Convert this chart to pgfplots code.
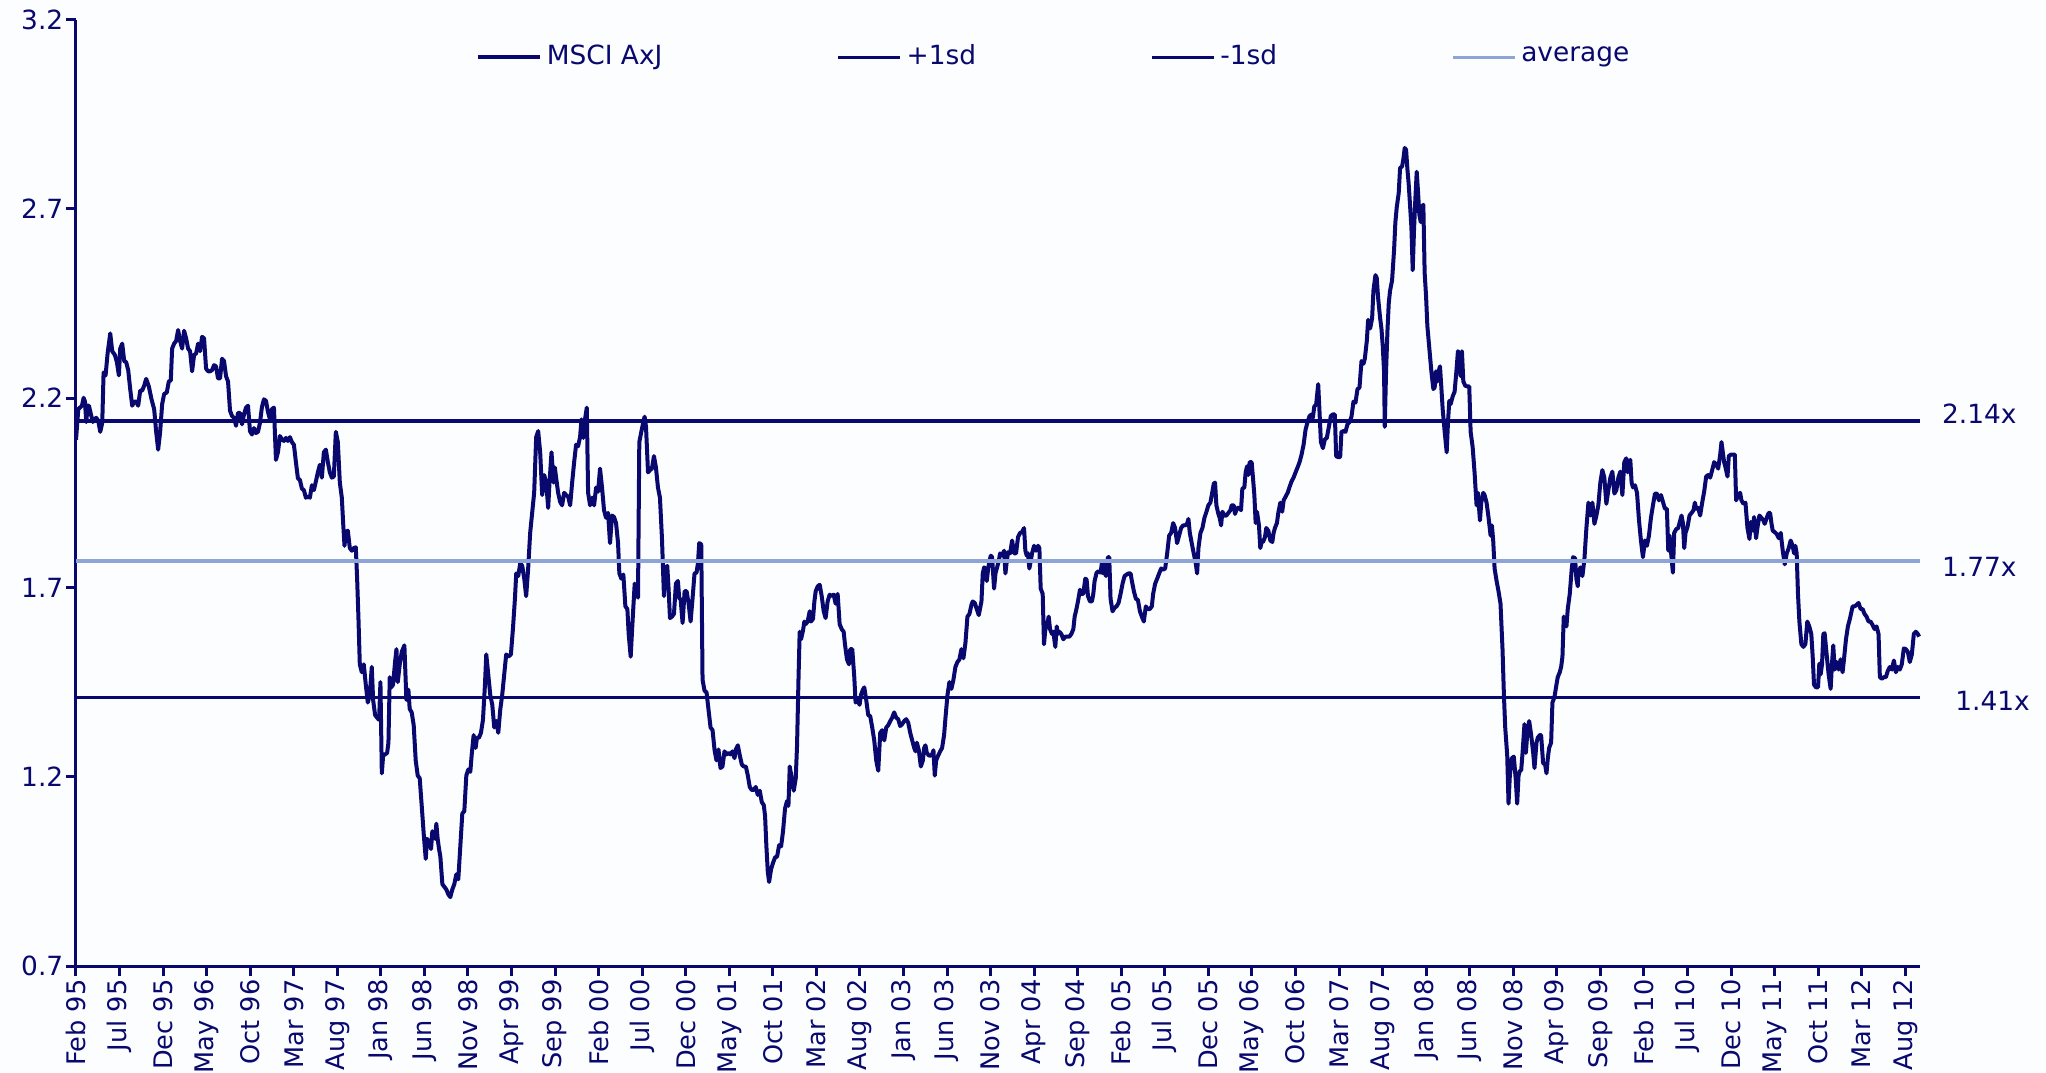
\documentclass[border=0pt]{standalone}
\usepackage{pgfplots}
\pgfplotsset{compat=1.18}
\usepackage{fontspec}
\setmainfont{DejaVu Sans}
\definecolor{navy}{RGB}{8,8,110}
\definecolor{avgblue}{RGB}{143,164,214}
\definecolor{bgc}{RGB}{252,253,255}
\newcommand{\lblfont}{\fontsize{6.6}{7.9}\selectfont}
\newcommand{\xlblfont}{\fontsize{6.4}{7.6}\selectfont}
\begin{document}
\begin{tikzpicture}
\fill[bgc] (-19pt,-26.5pt) rectangle (492.5pt,241.5pt);
\begin{axis}[
  at={(0,0)}, anchor=south west,
  scale only axis, width=461pt, height=236.6pt,
  xmin=0, xmax=211.7, ymin=0.7, ymax=3.2,
  axis lines*=left, axis line style={navy, line width=0.75pt, -},
  tick style={navy, line width=0.75pt},
  tick align=outside, major tick length=2.5pt,
  ytick={0.7,1.2,1.7,2.2,2.7,3.2},
  yticklabels={0.7,1.2,1.7,2.2,2.7,3.2},
  xtick={0,5,...,210},
  xticklabels={Feb 95,Jul 95,Dec 95,May 96,Oct 96,Mar 97,Aug 97,Jan 98,Jun 98,Nov 98,Apr 99,Sep 99,Feb 00,Jul 00,Dec 00,May 01,Oct 01,Mar 02,Aug 02,Jan 03,Jun 03,Nov 03,Apr 04,Sep 04,Feb 05,Jul 05,Dec 05,May 06,Oct 06,Mar 07,Aug 07,Jan 08,Jun 08,Nov 08,Apr 09,Sep 09,Feb 10,Jul 10,Dec 10,May 11,Oct 11,Mar 12,Aug 12},
  xticklabel style={rotate=90, anchor=east, font=\xlblfont, text=navy, inner sep=0.7pt},
  yticklabel style={font=\lblfont, text=navy, inner sep=0.5pt},
  clip=false,
  legend columns=4,
  legend style={draw=none, fill=none, at={(axis description cs:0.2165,0.960)}, anchor=west, font=\lblfont, text=navy, inner sep=0pt, nodes={inner sep=1.2pt}, /tikz/every even column/.append style={column sep=42.3pt}},
  legend image code/.code={\draw[#1] (0pt,0pt) -- (15.5pt,0pt);},
]
\addplot[navy, line width=1.0pt, line join=round] coordinates {
(0,2.09) (0.264,2.171) (0.684,2.180) (0.875,2.201) (1.028,2.191) (1.181,2.137) (1.334,2.180) (1.486,2.180) (1.716,2.157) (1.945,2.137) (2.098,2.144) (2.327,2.148) (2.556,2.140) (2.785,2.111) (3.014,2.135) (3.167,2.268) (3.396,2.260) (3.626,2.318) (3.931,2.371) (4.160,2.324) (4.466,2.314) (4.695,2.295) (4.925,2.260) (5.077,2.331) (5.306,2.344) (5.536,2.298) (5.765,2.295) (5.994,2.274) (6.223,2.224) (6.452,2.180) (6.681,2.191) (6.911,2.191) (7.140,2.180) (7.369,2.220) (7.598,2.220) (7.827,2.233) (8.057,2.251) (8.362,2.231) (8.668,2.197) (8.973,2.171) (9.203,2.111) (9.432,2.064) (9.661,2.111) (9.890,2.184) (10.119,2.211) (10.425,2.215) (10.654,2.244) (10.883,2.247) (11.036,2.331) (11.265,2.344) (11.495,2.351) (11.724,2.380) (11.953,2.351) (12.182,2.331) (12.411,2.378) (12.641,2.358) (12.870,2.331) (13.099,2.324) (13.328,2.271) (13.557,2.314) (13.787,2.318) (14.016,2.344) (14.245,2.324) (14.474,2.362) (14.703,2.358) (14.933,2.278) (15.162,2.271) (15.391,2.271) (15.620,2.274) (15.849,2.287) (16.079,2.284) (16.308,2.252) (16.537,2.252) (16.766,2.304) (16.995,2.298) (17.225,2.258) (17.454,2.244) (17.683,2.167) (17.912,2.153) (18.141,2.148) (18.371,2.127) (18.600,2.161) (18.829,2.161) (19.058,2.131) (19.287,2.157) (19.517,2.175) (19.746,2.180) (19.975,2.113) (20.204,2.104) (20.433,2.121) (20.663,2.108) (20.892,2.111) (21.121,2.135) (21.350,2.177) (21.579,2.197) (21.809,2.193) (22.038,2.164) (22.267,2.144) (22.496,2.171) (22.725,2.175) (22.955,2.037) (23.184,2.057) (23.413,2.100) (23.642,2.091) (23.871,2.087) (24.101,2.095) (24.330,2.087) (24.559,2.097) (24.788,2.084) (25.017,2.077) (25.247,2.031) (25.476,1.988) (25.705,1.984) (25.934,1.961) (26.163,1.957) (26.393,1.937) (26.622,1.940) (26.851,1.937) (27.080,1.970) (27.309,1.957) (27.539,1.980) (27.768,2.004) (27.997,2.024) (28.226,1.990) (28.455,2.057) (28.685,2.064) (28.914,2.031) (29.143,2.004) (29.372,1.990) (29.601,1.993) (29.831,2.111) (30.060,2.084) (30.289,1.977) (30.518,1.937) (30.671,1.870) (30.824,1.810) (30.977,1.846) (31.206,1.850) (31.435,1.804) (31.665,1.797) (31.894,1.804) (32.123,1.806) (32.276,1.723) (32.429,1.617) (32.581,1.497) (32.811,1.476) (33.040,1.497) (33.269,1.443) (33.498,1.396) (33.727,1.416) (33.957,1.490) (34.109,1.403) (34.339,1.363) (34.568,1.356) (34.797,1.350)
(34.95,1.450) (35.11,1.209) (35.26,1.256) (35.49,1.259) (35.72,1.263) (35.87,1.290) (36.02,1.463) (36.18,1.436) (36.40,1.443) (36.63,1.503) (36.79,1.537) (36.94,1.450) (37.17,1.497) (37.40,1.530) (37.70,1.547) (37.93,1.403) (38.16,1.430) (38.31,1.379) (38.54,1.370) (38.77,1.336) (39.00,1.243) (39.23,1.203) (39.46,1.196) (39.69,1.123) (39.92,1.049) (40.15,0.983) (40.30,1.036) (40.53,1.029) (40.76,1.009) (40.91,1.056) (41.06,1.043) (41.22,1.036) (41.37,1.076) (41.52,1.036) (41.68,1.009) (41.83,0.989) (42.06,0.916) (42.29,0.909) (42.52,0.902) (42.75,0.889) (42.97,0.882) (43.20,0.902) (43.43,0.916) (43.66,0.942) (43.89,0.929) (44.12,1.016) (44.35,1.103) (44.58,1.109) (44.81,1.203) (45.04,1.219) (45.27,1.213) (45.42,1.256) (45.65,1.310) (45.88,1.276) (46.03,1.303) (46.26,1.303) (46.49,1.316) (46.72,1.350) (46.95,1.443) (47.10,1.523) (47.33,1.470) (47.56,1.416) (47.79,1.390) (48.02,1.330) (48.25,1.347) (48.48,1.316) (48.70,1.376) (48.93,1.416) (49.16,1.470) (49.39,1.523) (49.62,1.517) (49.93,1.523) (50.16,1.590) (50.39,1.670) (50.54,1.737) (50.77,1.730) (51.00,1.764) (51.23,1.757) (51.46,1.723) (51.68,1.677) (51.91,1.750) (52.14,1.844) (52.37,1.897) (52.60,1.950) (52.83,2.097) (53.06,2.113) (53.29,2.057) (53.52,1.944) (53.75,1.997) (53.98,1.977) (54.21,1.910) (54.36,1.977) (54.59,2.057) (54.82,1.977) (54.97,2.017) (55.12,1.990) (55.35,1.950) (55.58,1.926) (55.81,1.917) (56.04,1.950) (56.27,1.944) (56.50,1.940) (56.73,1.917) (56.96,1.977) (57.19,2.031) (57.41,2.077) (57.64,2.073) (57.87,2.097) (58.03,2.144) (58.25,2.095) (58.41,2.140) (58.64,2.175) (58.79,1.950) (59.02,1.917) (59.25,1.937) (59.48,1.917) (59.71,1.964) (59.94,1.953) (60.16,2.014) (60.39,1.964) (60.62,1.904) (60.85,1.884) (61.08,1.897) (61.31,1.817) (61.54,1.890) (61.77,1.886) (62.00,1.870) (62.23,1.817) (62.38,1.737) (62.61,1.723) (62.84,1.734) (63.07,1.650) (63.30,1.643) (63.45,1.577) (63.68,1.517) (63.91,1.617) (64.14,1.710) (64.29,1.694) (64.52,1.673) (64.67,2.084) (64.90,2.111) (65.13,2.137) (65.28,2.151) (65.44,2.124) (65.67,2.004) (65.90,2.010) (66.12,2.014) (66.35,2.047) (66.58,2.017) (66.81,1.964) (67.04,1.937) (67.27,1.830) (67.50,1.677) (67.65,1.750) (67.88,1.757) (68.03,1.697) (68.19,1.619) (68.42,1.623) (68.65,1.630) (68.87,1.710) (69.10,1.717) (69.26,1.670)
(69.41,1.670) (69.64,1.606) (69.87,1.690) (70.10,1.690) (70.33,1.657) (70.56,1.610) (70.78,1.670) (71.01,1.737) (71.24,1.739) (71.40,1.764) (71.55,1.817) (71.78,1.814) (71.93,1.456) (72.16,1.427) (72.39,1.423) (72.62,1.376) (72.85,1.330) (73.08,1.323) (73.31,1.270) (73.53,1.243) (73.76,1.272) (73.99,1.223) (74.22,1.227) (74.45,1.267) (74.68,1.259) (74.91,1.263) (75.14,1.259) (75.37,1.267) (75.60,1.249) (75.75,1.272) (75.98,1.283) (76.21,1.256) (76.44,1.232) (76.67,1.227) (76.90,1.227) (77.13,1.203) (77.35,1.173) (77.58,1.165) (77.81,1.165) (78.04,1.173) (78.27,1.152) (78.50,1.163) (78.73,1.133) (78.96,1.125) (79.11,1.096) (79.26,1.016) (79.42,0.949) (79.57,0.922) (79.80,0.956) (80.03,0.973) (80.26,0.987) (80.49,0.989) (80.72,1.019) (80.95,1.016) (81.17,1.056) (81.40,1.116) (81.63,1.136) (81.79,1.123) (81.94,1.227) (82.17,1.196) (82.40,1.163) (82.63,1.196) (82.78,1.283) (82.93,1.443) (83.08,1.583) (83.24,1.563) (83.47,1.587) (83.62,1.610) (83.77,1.603) (84.00,1.610) (84.23,1.637) (84.38,1.610) (84.61,1.617) (84.77,1.663) (84.92,1.690) (85.15,1.703) (85.38,1.707) (85.61,1.677) (85.84,1.637) (86.06,1.619) (86.29,1.663) (86.52,1.681) (86.75,1.677) (86.98,1.681) (87.21,1.657) (87.44,1.683) (87.67,1.603) (87.90,1.590) (88.13,1.583) (88.28,1.550) (88.51,1.510) (88.74,1.497) (88.89,1.537) (89.12,1.537) (89.35,1.463) (89.50,1.396) (89.73,1.403) (89.96,1.390) (90.11,1.416) (90.34,1.430) (90.50,1.436) (90.72,1.403) (90.95,1.363) (91.18,1.360) (91.41,1.330) (91.64,1.296) (91.87,1.243) (92.10,1.216) (92.33,1.316) (92.56,1.323) (92.79,1.296) (93.02,1.330) (93.25,1.336) (93.48,1.347) (93.70,1.356) (93.93,1.370) (94.16,1.356) (94.39,1.352) (94.62,1.334) (94.85,1.339) (95.08,1.347) (95.31,1.352) (95.54,1.343) (95.77,1.316) (96.00,1.296) (96.23,1.276) (96.38,1.267) (96.53,1.290) (96.76,1.270) (96.99,1.227) (97.22,1.243) (97.37,1.276) (97.52,1.283) (97.68,1.263) (97.91,1.256) (98.14,1.256) (98.29,1.259) (98.44,1.270) (98.59,1.203) (98.75,1.243) (98.98,1.256) (99.21,1.267) (99.43,1.276) (99.66,1.310) (99.82,1.356) (100.05,1.416) (100.27,1.450) (100.50,1.432) (100.73,1.456) (100.96,1.490) (101.19,1.503) (101.42,1.510) (101.65,1.537) (101.88,1.513) (102.11,1.553) (102.34,1.623) (102.57,1.630) (102.80,1.654) (102.95,1.663) (103.18,1.659) (103.41,1.643) (103.64,1.627)
(103.95,1.663) (104.10,1.737) (104.26,1.753) (104.41,1.750) (104.56,1.717) (104.72,1.750) (104.87,1.770) (105.02,1.784) (105.17,1.780) (105.40,1.697) (105.56,1.737) (105.79,1.757) (105.94,1.770) (106.09,1.790) (106.32,1.784) (106.55,1.797) (106.70,1.737) (106.86,1.770) (107.01,1.793) (107.24,1.790) (107.47,1.824) (107.70,1.790) (107.92,1.790) (108.15,1.833) (108.38,1.844) (108.61,1.846) (108.84,1.857) (108.99,1.797) (109.15,1.784) (109.30,1.790) (109.45,1.750) (109.61,1.770) (109.76,1.790) (109.99,1.810) (110.22,1.797) (110.45,1.810) (110.60,1.804) (110.75,1.697) (110.98,1.683) (111.13,1.550) (111.29,1.590) (111.44,1.597) (111.67,1.623) (111.82,1.590) (112.05,1.577) (112.20,1.583) (112.43,1.543) (112.59,1.597) (112.74,1.577) (112.89,1.583) (113.12,1.577) (113.35,1.563) (113.58,1.570) (113.81,1.570) (114.04,1.570) (114.27,1.577) (114.50,1.590) (114.65,1.623) (114.80,1.637) (115.03,1.663) (115.26,1.694) (115.41,1.683) (115.64,1.683) (115.87,1.723) (116.02,1.721) (116.18,1.677) (116.41,1.663) (116.63,1.663) (116.79,1.683) (116.94,1.717) (117.17,1.739) (117.40,1.743) (117.63,1.739) (117.78,1.766) (117.93,1.737) (118.09,1.770) (118.24,1.730) (118.47,1.780) (118.62,1.780) (118.77,1.670) (119.00,1.637) (119.23,1.646) (119.46,1.650) (119.69,1.659) (119.92,1.683) (120.15,1.710) (120.38,1.730) (120.61,1.734) (120.84,1.737) (121.07,1.737) (121.22,1.717) (121.45,1.690) (121.68,1.670) (121.91,1.667) (122.14,1.637) (122.36,1.623) (122.59,1.610) (122.82,1.650) (123.05,1.643) (123.28,1.643) (123.51,1.650) (123.66,1.683) (123.89,1.710) (124.12,1.723) (124.35,1.737) (124.58,1.750) (124.81,1.747) (125.04,1.750) (125.27,1.790) (125.50,1.837) (125.73,1.844) (125.96,1.870) (126.18,1.857) (126.41,1.817) (126.64,1.837) (126.87,1.857) (127.10,1.864) (127.33,1.864) (127.56,1.868) (127.71,1.881) (127.87,1.844) (128.09,1.817) (128.32,1.790) (128.55,1.764) (128.71,1.737) (128.86,1.804) (129.09,1.844) (129.32,1.857) (129.55,1.884) (129.78,1.900) (130.00,1.917) (130.23,1.924) (130.46,1.953) (130.62,1.974) (130.77,1.977) (130.92,1.917) (131.15,1.894) (131.30,1.884) (131.46,1.864) (131.61,1.900) (131.84,1.890) (132.07,1.890) (132.30,1.897) (132.53,1.904) (132.68,1.917) (132.91,1.917) (133.06,1.894) (133.29,1.910) (133.52,1.910) (133.75,1.904) (133.90,1.961) (134.13,1.964) (134.28,2.004) (134.44,2.020) (134.59,1.997) (134.74,2.031) (134.97,2.031) (135.12,1.990) (135.28,1.944) (135.43,1.870) (135.58,1.900) (135.81,1.864) (135.96,1.804) (136.12,1.820) (136.27,1.820) (136.50,1.833) (136.65,1.857) (136.88,1.850) (137.11,1.824) (137.34,1.820) (137.49,1.844) (137.64,1.857) (137.87,1.870) (138.03,1.897)
(138.26,1.924) (138.48,1.900) (138.64,1.930) (138.87,1.940) (139.10,1.950) (139.33,1.966) (139.55,1.980) (139.78,1.990) (140.01,2.004) (140.24,2.017) (140.47,2.031) (140.70,2.051) (140.93,2.077) (141.16,2.117) (141.39,2.137) (141.62,2.153) (141.85,2.157) (142.00,2.148) (142.15,2.177) (142.38,2.184) (142.61,2.237) (142.76,2.164) (142.92,2.084) (143.15,2.068) (143.37,2.091) (143.60,2.095) (143.83,2.124) (144.06,2.153) (144.29,2.157) (144.52,2.157) (144.67,2.047) (144.90,2.044) (145.13,2.044) (145.28,2.111) (145.51,2.113) (145.74,2.111) (145.97,2.131) (146.20,2.137) (146.43,2.151) (146.66,2.191) (146.89,2.188) (147.12,2.224) (147.35,2.228) (147.58,2.298) (147.81,2.291) (147.96,2.304) (148.19,2.351) (148.34,2.407) (148.57,2.384) (148.80,2.411) (148.95,2.484) (149.18,2.525) (149.33,2.518) (149.49,2.464) (149.72,2.411) (149.87,2.384) (150.02,2.338) (150.17,2.271) (150.25,2.124) (150.40,2.271) (150.56,2.378) (150.71,2.451) (150.86,2.484) (151.09,2.511) (151.32,2.591) (151.47,2.665) (151.63,2.705) (151.85,2.741) (152.01,2.808) (152.24,2.812) (152.39,2.832) (152.54,2.861) (152.70,2.856) (152.85,2.805) (153.00,2.765) (153.15,2.711) (153.31,2.651) (153.46,2.538) (153.61,2.645) (153.76,2.725) (153.92,2.798) (154.07,2.745) (154.22,2.685) (154.38,2.665) (154.53,2.705) (154.68,2.711) (154.83,2.531) (154.99,2.471) (155.14,2.391) (155.37,2.331) (155.60,2.271) (155.83,2.224) (155.98,2.228) (156.13,2.271) (156.29,2.244) (156.44,2.271) (156.59,2.284) (156.74,2.231) (156.90,2.171) (157.13,2.111) (157.36,2.057) (157.51,2.137) (157.66,2.193) (157.81,2.184) (158.04,2.204) (158.27,2.217) (158.50,2.278) (158.65,2.324) (158.81,2.318) (158.96,2.258) (159.11,2.324) (159.27,2.244) (159.49,2.233) (159.72,2.231) (159.95,2.231) (160.11,2.111) (160.34,2.071) (160.56,2.004) (160.79,1.917) (160.95,1.950) (161.18,1.877) (161.33,1.924) (161.56,1.950) (161.71,1.944) (161.94,1.924) (162.17,1.884) (162.40,1.837) (162.55,1.864) (162.70,1.824) (162.86,1.750) (163.09,1.717) (163.31,1.690) (163.54,1.657) (163.77,1.537) (163.93,1.416) (164.08,1.330) (164.31,1.256) (164.46,1.129) (164.61,1.203) (164.84,1.249) (165.07,1.253) (165.30,1.189) (165.45,1.129) (165.61,1.203) (165.76,1.216) (165.91,1.216) (166.07,1.263) (166.29,1.339) (166.45,1.263) (166.60,1.310) (166.83,1.347) (167.06,1.310) (167.29,1.263) (167.44,1.223) (167.67,1.290) (167.82,1.303) (168.05,1.310) (168.20,1.310) (168.43,1.236) (168.66,1.232) (168.82,1.209) (168.97,1.249) (169.12,1.276) (169.35,1.290) (169.50,1.396) (169.73,1.410) (169.96,1.443) (170.11,1.463) (170.34,1.476) (170.50,1.490) (170.65,1.517) (170.80,1.623) (170.95,1.603) (171.11,1.597) (171.26,1.643) (171.49,1.683) (171.72,1.750) (171.87,1.780) (172.10,1.777) (172.25,1.723) (172.41,1.703)
(172.48,1.737) (172.71,1.753) (172.94,1.730) (173.17,1.774) (173.40,1.857) (173.63,1.924) (173.86,1.890) (174.09,1.924) (174.32,1.868) (174.55,1.890) (174.77,1.917) (175.00,1.977) (175.23,2.010) (175.46,1.990) (175.69,1.921) (175.92,1.957) (176.15,1.990) (176.38,2.006) (176.61,1.948) (176.84,1.957) (177.07,1.990) (177.30,2.006) (177.53,1.944) (177.75,2.031) (177.98,2.041) (178.14,2.004) (178.29,2.031) (178.44,2.037) (178.59,1.977) (178.75,1.964) (178.98,1.970) (179.21,1.950) (179.44,1.877) (179.66,1.824) (179.89,1.780) (180.12,1.824) (180.35,1.810) (180.58,1.837) (180.81,1.884) (181.04,1.917) (181.27,1.948) (181.50,1.948) (181.73,1.930) (181.96,1.944) (182.19,1.926) (182.41,1.908) (182.64,1.908) (182.80,1.797) (182.95,1.837) (183.10,1.797) (183.33,1.739) (183.48,1.844) (183.71,1.854) (183.94,1.857) (184.17,1.877) (184.32,1.890) (184.48,1.870) (184.63,1.804) (184.78,1.844) (185.01,1.860) (185.24,1.890) (185.47,1.897) (185.70,1.904) (185.85,1.924) (186.01,1.908) (186.23,1.910) (186.46,1.890) (186.69,1.924) (186.92,1.953) (187.15,1.993) (187.38,1.997) (187.61,1.990) (187.84,2.010) (188.07,2.031) (188.30,2.024) (188.53,2.014) (188.76,2.051) (188.91,2.084) (189.06,2.057) (189.21,2.031) (189.37,2.017) (189.60,1.993) (189.75,2.047) (189.98,2.051) (190.21,2.051) (190.44,2.051) (190.59,1.930) (190.82,1.944) (191.05,1.950) (191.20,1.930) (191.43,1.921) (191.66,1.924) (191.89,1.857) (192.12,1.828) (192.27,1.873) (192.50,1.850) (192.65,1.886) (192.88,1.830) (193.03,1.857) (193.26,1.890) (193.49,1.884) (193.72,1.877) (193.87,1.868) (194.10,1.884) (194.33,1.897) (194.49,1.897) (194.64,1.870) (194.79,1.850) (195.02,1.846) (195.25,1.841) (195.48,1.830) (195.71,1.844) (195.94,1.797) (196.17,1.761) (196.40,1.790) (196.63,1.804) (196.85,1.824) (197.08,1.810) (197.24,1.790) (197.39,1.810) (197.54,1.790) (197.69,1.683) (197.85,1.610) (198.08,1.550) (198.31,1.543) (198.54,1.550) (198.76,1.610) (198.99,1.597) (199.22,1.577) (199.38,1.517) (199.53,1.443) (199.76,1.436) (199.99,1.436) (200.14,1.499) (200.29,1.470) (200.45,1.497) (200.60,1.577) (200.75,1.579) (200.98,1.523) (201.21,1.470) (201.44,1.432) (201.59,1.497) (201.74,1.547) (201.90,1.483) (202.13,1.503) (202.36,1.483) (202.58,1.510) (202.81,1.476) (202.97,1.510) (203.20,1.563) (203.42,1.597) (203.65,1.617) (203.96,1.650) (204.19,1.650) (204.42,1.654) (204.65,1.659) (204.88,1.643) (205.11,1.643) (205.33,1.630) (205.56,1.623) (205.79,1.610) (206.02,1.610) (206.25,1.601) (206.48,1.590) (206.71,1.597) (206.94,1.577) (207.09,1.463) (207.32,1.459) (207.55,1.463) (207.78,1.463) (208.01,1.480) (208.24,1.490) (208.47,1.483) (208.70,1.507) (208.93,1.476) (209.15,1.490) (209.38,1.483) (209.61,1.497) (209.84,1.539) (210.07,1.537) (210.30,1.530) (210.53,1.503) (210.76,1.523) (210.99,1.577) (211.22,1.583) (211.45,1.577) (211.60,1.570)
};
\addlegendentry{MSCI AxJ}
\addplot[navy, line width=0.85pt] coordinates {(0,2.14) (211.7,2.14)};
\addlegendentry{+1sd}
\addplot[navy, line width=0.85pt] coordinates {(0,1.41) (211.7,1.41)};
\addlegendentry{-1sd}
\addplot[avgblue, line width=0.85pt] coordinates {(0,1.77) (211.7,1.77)};
\addlegendentry{average}
\node[anchor=west, font=\lblfont, text=navy, xshift=2.0pt, yshift=1.8pt] at (axis cs:211.7,2.14) {2.14x};
\node[anchor=west, font=\lblfont, text=navy, xshift=2.0pt, yshift=-1.4pt] at (axis cs:211.7,1.77) {1.77x};
\node[anchor=west, font=\lblfont, text=navy, xshift=5.3pt, yshift=-1.0pt] at (axis cs:211.7,1.41) {1.41x};
\end{axis}
\pgfresetboundingbox
\path[use as bounding box] (-19pt,-26.5pt) rectangle (492.5pt,241.5pt);
\end{tikzpicture}
\end{document}
